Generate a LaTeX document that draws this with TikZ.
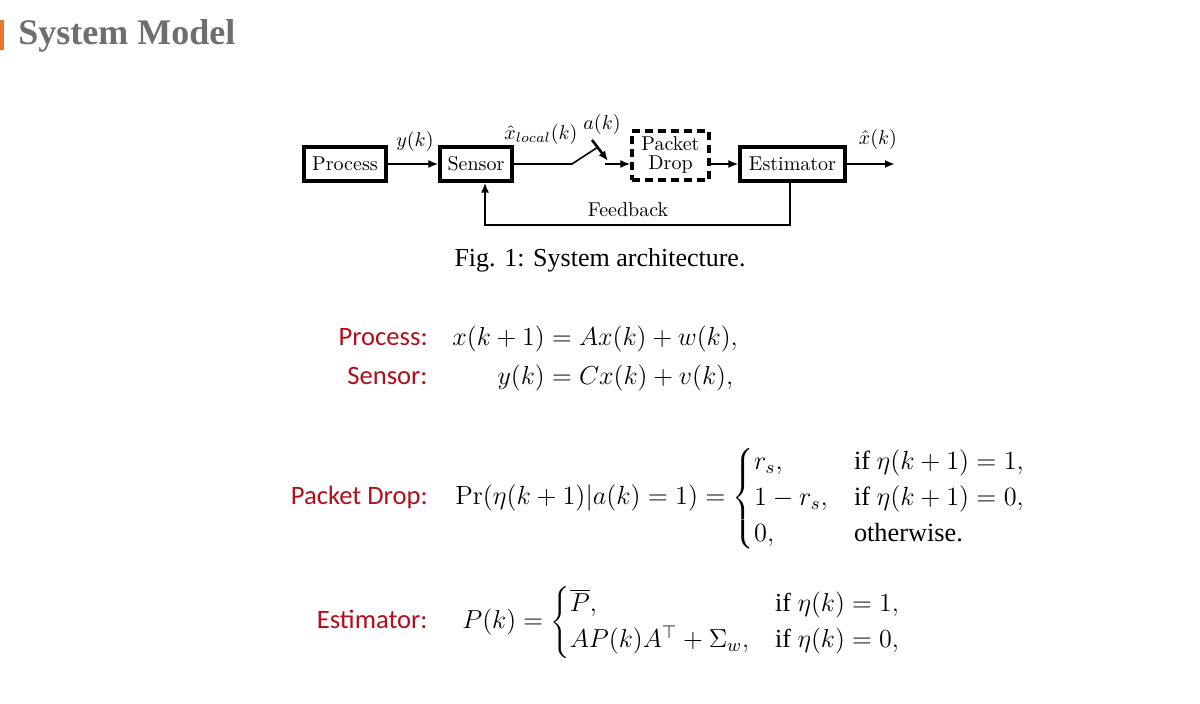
\documentclass[tikz,border=0pt]{standalone}
\usepackage{fix-cm}
\usepackage{amsmath,mathtools}
\usepackage{fontspec}
\newfontfamily\tnr{Liberation Serif}
\newfontfamily\cbr{Carlito}
\usetikzlibrary{arrows.meta}
\definecolor{titlegray}{HTML}{6E6E6E}
\definecolor{accent}{HTML}{E8782A}
\definecolor{lblred}{HTML}{B0101C}
\begin{document}
\begin{tikzpicture}[x=0.5pt,y=-0.5pt,
  blk/.style={draw, line width=1.6pt, inner sep=0pt, minimum height=17pt, font=\fontsize{10}{10}\selectfont},
  flow/.style={line width=1.3pt, -{Latex[length=5pt,width=4pt]}},
  thinln/.style={line width=0.8pt},
  lbl/.style={inner sep=0pt, font=\fontsize{10}{10}\selectfont},
  redlbl/.style={anchor=base east, inner sep=0pt, text=lblred, font=\cbr\fontsize{13.3}{15}\selectfont},
  eqn/.style={anchor=base west, inner sep=0pt, font=\fontsize{13}{15}\selectfont}]
\useasboundingbox (0,0) rectangle (1200,704);
\fill[white] (0,0) rectangle (1200,704);
\fill[accent] (0,20) rectangle (4,50);
\node[anchor=base west, inner sep=0pt, text=titlegray, font=\tnr\bfseries\fontsize{18}{20}\selectfont] (title) at (18,45) {System Model};

% block diagram
\node[blk, minimum width=41pt] (proc) at (345,164) {Process};
\node[blk, minimum width=36pt] (sens) at (476,164) {Sensor};
\node[blk, dash pattern=on 4pt off 2.5pt, minimum width=38.5pt, minimum height=24.5pt, align=center, font=\fontsize{10}{9.5}\selectfont] (pd) at (670.5,155.5) {Packet\\Drop};
\node[blk, minimum width=52.5pt] (est) at (792.5,164) {Estimator};

\draw[flow] (proc) -- (sens);
\node[lbl] (ylab) at (415,142) {$y(k)$};

\coordinate (swA) at (572,164);
\coordinate (swB) at (598,147);
\coordinate (swC) at (605,164);
\coordinate (akA) at (592,140);
\coordinate (akB) at (608,161);
\draw[thinln] (sens.east) -- (swA) -- (swB);
\draw[flow] (akA) -- (akB);
\draw[flow] (swC) -- (swC -| pd.west);
\node[lbl] (xloc) at (541,135) {$\hat{x}_{local}(k)$};
\node[lbl] (alab) at (602,125) {$a(k)$};

\draw[flow] (pd.east |- est.west) -- (est.west);
\coordinate (out) at (895,164);
\draw[flow] (est.east) -- (out);
\node[lbl] (xhat) at (878,140) {$\hat{x}(k)$};

\coordinate (fbR) at (790,225);
\coordinate (fbL) at (485,225);
\draw[flow] (est.south -| fbR) -- (fbR) -- (fbL) -- (fbL |- sens.south);
\node[lbl] (fblab) at (628,210) {Feedback};

\node[anchor=base, inner sep=0pt, font=\tnr\fontsize{13}{15}\selectfont] (cap) at (600,267) {Fig. 1: System architecture.};

% equations
\node[redlbl] (lp) at (428,346) {Process:};
\node[redlbl] (ls) at (428,385) {Sensor:};
\node[eqn] (ep) at (452,346) {$x(k+1) = Ax(k) + w(k),$};
\node[eqn] (es) at (452,385) {$\phantom{x(k+1)}\mathllap{y(k)} = Cx(k) + v(k),$};

\node[redlbl] (lpd) at (428,505) {Packet Drop:};
\node[eqn, font=\fontsize{13.15}{15}\selectfont] (epd) at (455,505) {$\Pr(\eta(k+1)|a(k)=1) = \begin{cases} r_s, & \text{\tnr if } \eta(k+1)=1,\\ 1-r_s, & \text{\tnr if } \eta(k+1)=0,\\ 0, & \text{\tnr otherwise.}\end{cases}$};

\node[redlbl] (le) at (428,629) {Estimator:};
\node[eqn] (ee) at (462,629) {$P(k) = \begin{cases} \overline{P}, & \text{\tnr if } \eta(k)=1,\\ AP(k)A^{\top} + \Sigma_w, & \text{\tnr if } \eta(k)=0,\end{cases}$};
\end{tikzpicture}
\end{document}
